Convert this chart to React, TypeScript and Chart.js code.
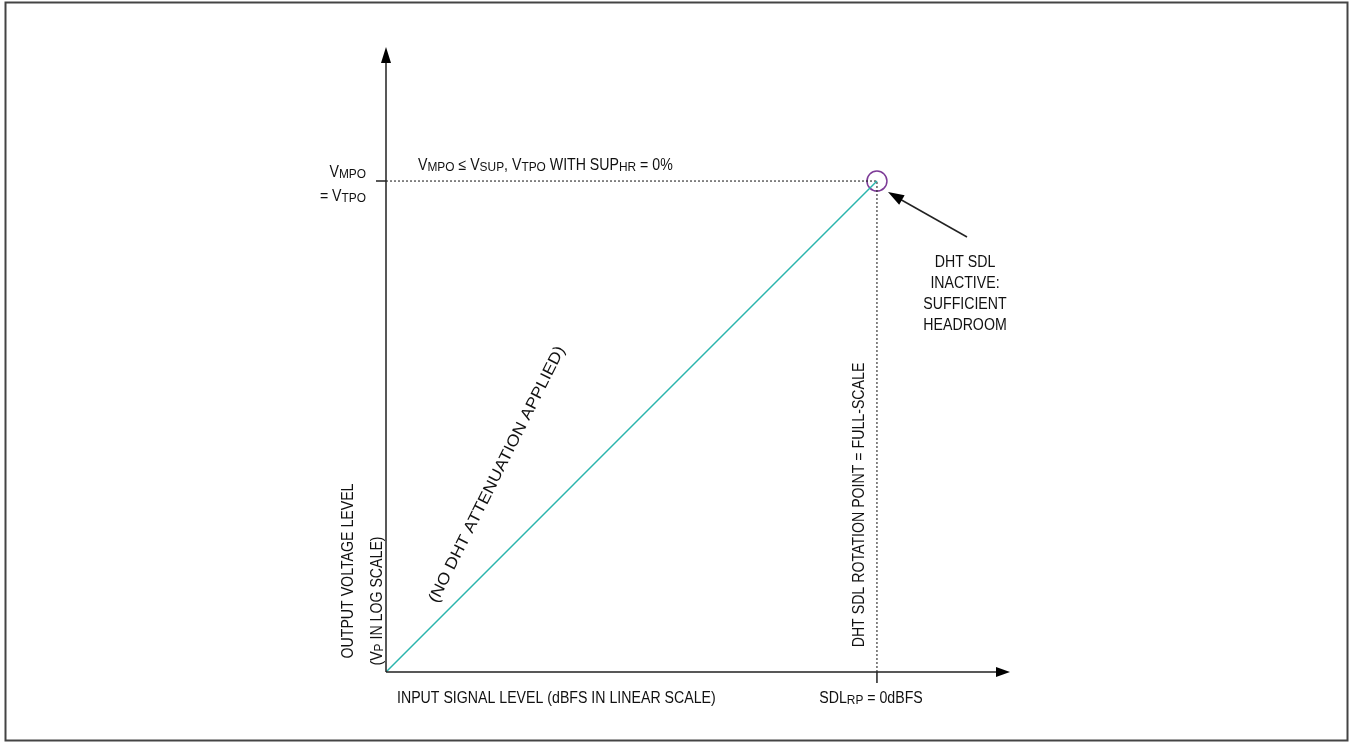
import React, { useEffect, useRef } from "react";
import { Chart, registerables } from "chart.js";

Chart.register(...registerables);

// Normalised data: 1 on x = full scale (0 dBFS), 1 on y = VMPO = VTPO
const inputLevels = [0, 1];
const outputLevels = [0, 1];
const fullScaleX = 1;
const vtpoY = 1;
const xAxisMax = 1.271;
const yAxisMax = 1.273;

const topLabel: [string, boolean][] = [["V", false], ["MPO", true], [" \u2264 V", false], ["SUP", true], [", V", false], ["TPO", true], [" WITH SUP", false], ["HR", true], [" = 0%", false]];
const yTickLabel1: [string, boolean][] = [["V", false], ["MPO", true]];
const yTickLabel2: [string, boolean][] = [["= V", false], ["TPO", true]];
const xTickLabel: [string, boolean][] = [["SDL", false], ["RP", true], [" = 0dBFS", false]];
const xTitle: [string, boolean][] = [["INPUT SIGNAL LEVEL (dBFS IN LINEAR SCALE)", false]];
const yTitle1: [string, boolean][] = [["OUTPUT VOLTAGE LEVEL", false]];
const yTitle2: [string, boolean][] = [["(V", false], ["P", true], [" IN LOG SCALE)", false]];
const vLineLabel: [string, boolean][] = [["DHT SDL ROTATION POINT = FULL-SCALE", false]];
const diagLabel: [string, boolean][] = [["(NO DHT ATTENUATION APPLIED)", false]];
const noteLines = ["DHT SDL", "INACTIVE:", "SUFFICIENT", "HEADROOM"];

const FONT = "'Liberation Sans', Arial, sans-serif";
const SX = 0.885;
const SIZE = 16;
const TEXT = "#111";

function drawRich(ctx: CanvasRenderingContext2D, segs: [string, boolean][], x: number, y: number, align: string, rot = 0, sx = SX, size = SIZE) {
  ctx.save();
  ctx.translate(x, y);
  ctx.rotate(rot);
  ctx.scale(sx, 1);
  ctx.fillStyle = TEXT;
  ctx.textBaseline = "alphabetic";
  ctx.textAlign = "left";
  const subSize = size * 0.84;
  let total = 0;
  const widths: number[] = [];
  for (const [t, sub] of segs) {
    ctx.font = `${sub ? subSize : size}px ${FONT}`;
    const w = ctx.measureText(t).width;
    widths.push(w);
    total += w;
  }
  let cx = align === "center" ? -total / 2 : align === "right" ? -total : 0;
  const base = size * 0.36;
  segs.forEach(([t, sub], i) => {
    ctx.font = `${sub ? subSize : size}px ${FONT}`;
    ctx.fillText(t, cx, base + (sub ? 1.5 : 0));
    cx += widths[i];
  });
  ctx.restore();
}

function arrowHead(ctx: CanvasRenderingContext2D, tx: number, ty: number, fx: number, fy: number, len: number, half: number) {
  const a = Math.atan2(ty - fy, tx - fx);
  const bx = tx - len * Math.cos(a);
  const by = ty - len * Math.sin(a);
  ctx.beginPath();
  ctx.moveTo(tx, ty);
  ctx.lineTo(bx + half * Math.sin(a), by - half * Math.cos(a));
  ctx.lineTo(bx - half * Math.sin(a), by + half * Math.cos(a));
  ctx.closePath();
  ctx.fill();
}

const decor = {
  id: "decor",
  beforeDraw(chart: any) {
    const ctx = chart.ctx as CanvasRenderingContext2D;
    ctx.save();
    ctx.fillStyle = "#fff";
    ctx.fillRect(0, 0, chart.width, chart.height);
    ctx.strokeStyle = "#444";
    ctx.lineWidth = 2;
    ctx.strokeRect(5.5, 2.5, 1342, 738);
    ctx.restore();
  },
  afterDraw(chart: any) {
    const ctx = chart.ctx as CanvasRenderingContext2D;
    const xs = chart.scales.x;
    const ys = chart.scales.y;
    const x0 = xs.getPixelForValue(0);
    const y0 = ys.getPixelForValue(0);
    const xEnd = xs.getPixelForValue(xAxisMax);
    const yEnd = ys.getPixelForValue(yAxisMax);
    const fx = xs.getPixelForValue(fullScaleX);
    const fy = ys.getPixelForValue(vtpoY);
    ctx.save();
    ctx.strokeStyle = "#222";
    ctx.fillStyle = "#000";
    ctx.lineWidth = 1.5;
    // axes
    ctx.beginPath();
    ctx.moveTo(x0, y0);
    ctx.lineTo(x0, yEnd + 10);
    ctx.moveTo(x0, y0);
    ctx.lineTo(xEnd - 10, y0);
    // ticks
    ctx.moveTo(x0 - 10, fy);
    ctx.lineTo(x0, fy);
    ctx.moveTo(fx, y0);
    ctx.lineTo(fx, y0 + 11);
    ctx.stroke();
    arrowHead(ctx, x0, yEnd, x0, y0, 16, 5);
    arrowHead(ctx, xEnd, y0, x0, y0, 14, 5);
    // annotation arrow
    ctx.lineWidth = 1.5;
    ctx.beginPath();
    ctx.moveTo(967, 237);
    ctx.lineTo(898, 198);
    ctx.stroke();
    arrowHead(ctx, 888, 192, 967, 237, 16, 5.5);
    ctx.restore();

    drawRich(ctx, topLabel, 418, 164, "left");
    drawRich(ctx, yTickLabel1, 366, 171, "right");
    drawRich(ctx, yTickLabel2, 366, 195, "right");
    drawRich(ctx, xTitle, 397, 697, "left");
    drawRich(ctx, xTickLabel, 871, 697, "center");
    noteLines.forEach((t, i) => drawRich(ctx, [[t, false]], 965, 261 + i * 21, "center"));
    drawRich(ctx, yTitle1, 347, 571, "center", -Math.PI / 2);
    drawRich(ctx, yTitle2, 376, 601, "center", -Math.PI / 2);
    drawRich(ctx, vLineLabel, 858, 505, "center", -Math.PI / 2);
    drawRich(ctx, diagLabel, 496, 474, "center", -63.3 * Math.PI / 180, 1.1, 16);
  },
};

export default function App() {
  const ref = useRef<HTMLCanvasElement | null>(null);
  useEffect(() => {
    if (!ref.current) return;
    const chart = new Chart(ref.current, {
      type: "scatter",
      data: {
        datasets: [
          {
            data: inputLevels.map((x, i) => ({ x, y: outputLevels[i] })),
            showLine: true,
            borderColor: "#2bb5ad",
            borderWidth: 1.5,
            pointRadius: 0,
          },
          {
            data: [{ x: 0, y: vtpoY }, { x: fullScaleX, y: vtpoY }],
            showLine: true,
            borderColor: "#111",
            borderWidth: 1,
            borderDash: [2, 2],
            pointRadius: 0,
          },
          {
            data: [{ x: fullScaleX, y: 0 }, { x: fullScaleX, y: vtpoY }],
            showLine: true,
            borderColor: "#111",
            borderWidth: 1,
            borderDash: [2, 2],
            pointRadius: 0,
          },
          {
            data: [{ x: fullScaleX, y: vtpoY }],
            showLine: false,
            pointRadius: 10,
            pointStyle: "circle",
            borderColor: "#7d3b97",
            backgroundColor: "rgba(0,0,0,0)",
            borderWidth: 1.5,
          },
        ],
      },
      options: {
        animation: false,
        responsive: false,
        maintainAspectRatio: false,
        devicePixelRatio: 1,
        layout: { padding: { left: 386, right: 341, top: 47, bottom: 72 } },
        scales: {
          x: { type: "linear", min: 0, max: xAxisMax, display: false },
          y: { type: "linear", min: 0, max: yAxisMax, display: false },
        },
        plugins: { legend: { display: false }, tooltip: { enabled: false } },
        events: [],
      },
      plugins: [decor],
    } as any);
    return () => chart.destroy();
  }, []);
  return (
    <canvas
      ref={ref}
      width={1351}
      height={744}
      style={{ position: "absolute", left: 0, top: 0, width: 1351, height: 744, display: "block" }}
    />
  );
}
